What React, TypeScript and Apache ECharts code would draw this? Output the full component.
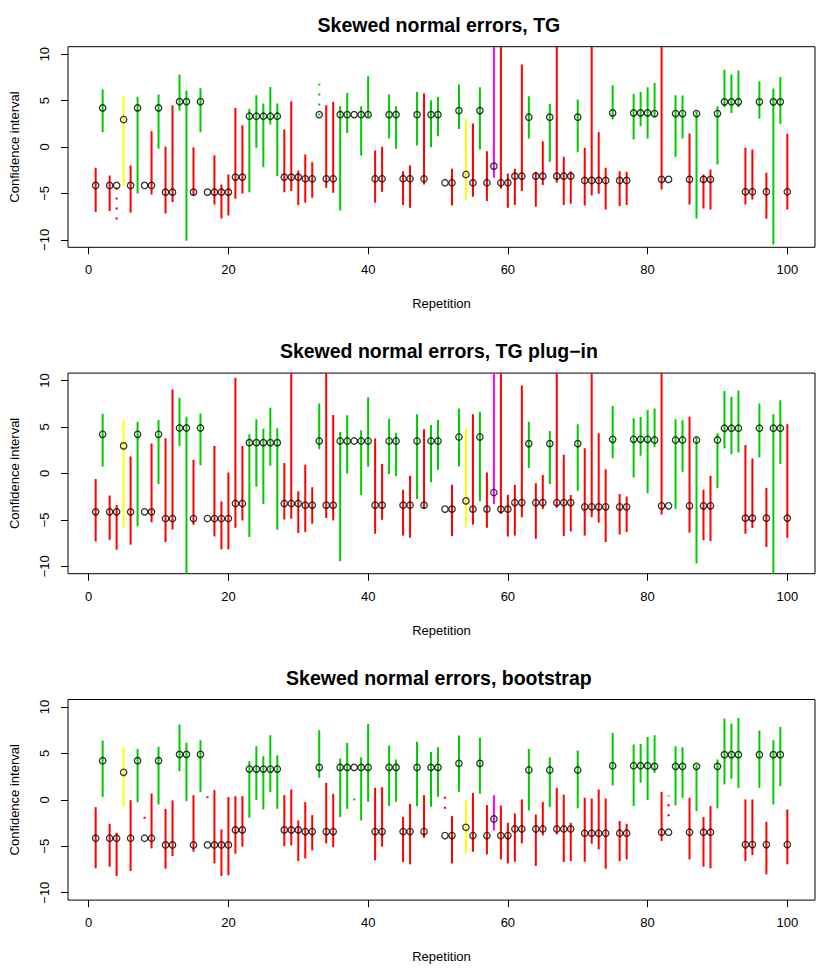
import React, { useEffect, useRef } from "react";
import * as echarts from "echarts";

// Repetition index 1..100
const reps: number[] = Array.from({ length: 100 }, (_, i) => i + 1);

const xTicks = [0, 20, 40, 60, 80, 100];
const yTicks = [-10, -5, 0, 5, 10];

// point estimates (shared by all three panels)
const estimates = [
  -4.14, 4.21, -4.14, -4.14, 2.96, -4.14, 4.21, -4.14, -4.14, 4.21,
  -4.86, -4.86, 4.89, 4.89, -4.86, 4.89, -4.86, -4.86, -4.86, -4.86,
  -3.24, -3.24, 3.31, 3.31, 3.31, 3.31, 3.31, -3.24, -3.24, -3.24,
  -3.42, -3.42, 3.49, -3.42, -3.42, 3.49, 3.49, 3.49, 3.49, 3.49,
  -3.42, -3.42, 3.49, 3.49, -3.42, -3.42, 3.49, -3.42, 3.49, 3.49,
  -3.85, -3.85, 3.92, -2.96, -3.85, 3.92, -3.85, -2.06, -3.85, -3.85,
  -3.14, -3.14, 3.21, -3.14, -3.14, 3.21, -3.14, -3.14, -3.14, 3.21,
  -3.6, -3.6, -3.6, -3.6, 3.67, -3.6, -3.6, 3.67, 3.67, 3.67,
  3.6, -3.49, -3.49, 3.6, 3.6, -3.49, 3.6, -3.49, -3.49, 3.6,
  4.86, 4.86, 4.86, -4.82, -4.82, 4.86, -4.82, 4.86, 4.86, -4.82,
];

// codes: r red, g green, y yellow, m magenta, R red dotted, G green dotted, - none
const tgCodes = (
  "rgrRyrg-rg" + "rrggrg-rrr" + "rrgggggrrr" + "rrGrrgg-gg" + "rrggrrgrgg" +
  "-rgyrgrmrr" + "rrgrrgrrrg" + "rrrrgrrggg" + "gr-ggrgrrg" + "gggrrgrggr"
).split("");
const tgLower = [
  -7.0, 1.59, -6.9, -7.8, -4.21, -7.08, -5.0, null, -5.11, -0.2,
  -7.15, -5.93, 3.92, -10.1, -5.2, 1.59, null, -6.18, -7.69, -7.37,
  -5.57, -5.0, -4.86, -0.09, -2.17, 2.42, -3.14, -4.86, -4.75, -6.25,
  -6.0, -5.47, 3.4, -4.39, -4.93, -6.83, 1.52, null, -0.91, 3.24,
  -6.0, -4.82, 0.91, -0.2, -6.25, -6.54, 0.16, -4.03, -0.02, 1.16,
  null, -6.29, 1.95, -5.72, -5.36, -0.27, -5.82, -3.31, -4.46, -6.54,
  -6.25, -4.75, 0.91, -6.43, -4.1, -1.59, -3.85, -6.25, -6.11, -0.56,
  -6.29, -5.22, -5.04, -6.72, 2.96, -6.36, -6.25, 0.81, 2.24, 0.91,
  3.21, -4.57, null, -1.09, 0.91, -6.18, -7.69, -6.61, -6.72, -1.88,
  4.28, 3.67, 4.28, -6.18, -5.65, 3.03, -7.72, -10.5, 2.49, -6.72,
];
const tgUpper = [
  -2.24, 6.18, -3.06, -4.14, 5.54, -1.99, 5.39, null, 1.7, 5.65,
  0.02, 4.5, 7.8, 6.08, -0.02, 6.32, null, -0.9, -4.03, -2.96,
  4.21, 2.35, 4.1, 5.57, 4.68, 6.47, 4.68, 1.88, 4.93, -2.53,
  -0.8, -1.63, 6.82, 4.5, 4.86, 4.39, 5.82, null, 4.39, 7.62,
  -0.38, 0.02, 5.65, 4.39, -2.6, -1.99, 5.93, 5.75, 5.04, 5.39,
  null, -2.35, 6.72, 3.03, 2.53, 6.43, -0.45, 12, 12, -2.85,
  -2.35, 8.87, 5.47, -2.67, 0.63, 4.64, 12, -1.06, -2.6, 5.11,
  -0.09, 12, 1.59, -2.24, 6.65, -2.6, -2.67, 5.72, 5.93, 6.43,
  6.9, 12, null, 5.57, 5.54, 1.45, 3.85, -2.96, -2.42, 4.39,
  8.33, 7.8, 8.23, -0.09, -0.27, 7.08, -2.78, 6.29, 7.54, 1.42,
];

const plugCodes = (
  "rgrryrg-rg" + "rrggrg-rrr" + "rrgggggrrr" + "rrgrrgg-gg" + "rrggrrgrgg" +
  "-rgyrgrmrr" + "rrgrrgrrrg" + "rrrrgrrggg" + "gr-ggrgrrg" + "gggrrgrggr"
).split("");
const plugLower = [
  -7.32, 0.75, -7.14, -8.21, -5.89, -7.68, -5.68, null, -5.25, -1.14,
  -7.39, -6.04, 2.96, -12, -5.54, 0.89, null, -6.79, -8.18, -8.18,
  -5.86, -5.07, -6.86, -1.43, -3.29, 0.82, -6.07, -4.96, -4.89, -6.43,
  -6.32, -5.43, 2.61, -4.79, -5.07, -9.46, 0.0, null, -2.32, 0.71,
  -6.5, -5.0, -0.07, -0.32, -6.68, -6.93, -2.75, -3.82, -0.96, 0.36,
  null, -6.75, 0.75, -5.79, -5.54, -3.0, -5.86, -3.29, -4.36, -6.79,
  -6.68, -4.71, 0.57, -7.04, -3.82, -1.14, -3.71, -6.75, -6.25, -1.86,
  -6.68, -4.71, -5.32, -7.39, 1.64, -6.57, -6.32, -0.43, 1.89, -2.14,
  2.86, -4.46, null, -3.82, 0.18, -6.39, -9.71, -7.21, -7.29, -1.57,
  2.68, 2.07, 2.25, -6.5, -5.89, 1.71, -7.93, -12, 1.0, -6.93,
];
const plugUpper = [
  -0.61, 6.43, -2.39, -3.39, 5.71, 1.82, 5.57, null, 3.21, 5.75,
  3.79, 9.04, 8.14, 6.11, 1.46, 6.46, null, 2.96, -3.0, 0.11,
  10.29, 2.96, 4.21, 5.82, 4.82, 7.07, 4.86, 1.11, 12, -1.93,
  0.93, -1.5, 7.54, 12, 6.29, 4.46, 6.25, null, 4.64, 8.21,
  3.75, 1.0, 5.89, 4.39, -1.75, -0.25, 6.36, 4.75, 5.21, 5.75,
  null, -1.21, 7.0, 4.86, 6.36, 6.64, 0.11, 12, 12, -2.29,
  -1.25, 9.46, 5.57, -1.07, -0.18, 4.57, 12, 2.0, -2.32, 5.29,
  2.71, 12, 4.32, 0.46, 7.25, -2.21, -2.5, 5.93, 6.07, 6.82,
  7.0, 12, null, 5.82, 5.71, 6.11, 3.86, -1.75, -0.25, 4.32,
  8.86, 8.25, 8.93, 3.07, 1.61, 7.54, -1.57, 6.36, 7.89, 5.29,
];

const bootCodes = (
  "rgrryrgRrg" + "rrggrgRrrr" + "rrgggggrrr" + "rrgrrggGgg" + "rrggrrgrgg" +
  "Rrgyrgrmrr" + "rrgrrgrrrg" + "rrrrgrrggg" + "grRggrgrrg" + "gggrrgrggr"
).split("");
const bootLower = [
  -7.38, 0.29, -7.2, -8.21, -0.75, -7.67, -0.25, -2.04, -5.23, -0.5,
  -7.42, -6.06, 3.08, -0.14, -5.59, 0.82, 0.2, -6.85, -8.21, -8.14,
  -5.81, -5.05, -1.94, -0.04, -1.04, 0.82, -0.97, -4.98, -4.91, -6.59,
  -6.31, -5.45, 2.37, -4.7, -5.09, -1.86, -0.97, -0.06, -2.22, -0.22,
  -6.52, -5.05, -0.68, -0.22, -6.7, -6.95, -0.68, -4.09, -0.75, 0.32,
  -0.97, -6.85, 0.86, -5.81, -5.59, 0.65, -5.88, -3.3, -6.42, -6.85,
  -6.67, -4.7, -1.15, -7.13, -3.84, -0.79, -3.73, -6.7, -6.6, -0.93,
  -6.67, -4.73, -5.34, -7.42, 1.54, -6.6, -6.42, -0.68, 1.83, -0.04,
  2.9, -4.44, -1.76, -0.61, 0.22, -6.42, -1.22, -7.2, -7.38, -0.93,
  1.65, 2.26, 1.29, -6.6, -5.95, 1.29, -8.03, -0.5, 1.47, -6.95,
];
const bootUpper = [
  -0.79, 6.38, -2.58, -3.55, 5.66, -0.04, 5.48, -0.97, 0.68, 5.7,
  -0.97, -0.07, 8.1, 6.13, 0.5, 6.42, 0.38, 1.04, -3.19, 0.29,
  0.39, 0.39, 4.16, 5.77, 4.7, 6.95, 4.8, 0.5, 1.11, -2.22,
  -0.25, -1.65, 7.49, 1.83, 0.65, 4.44, 6.13, 0.14, 4.59, 8.17,
  1.29, 1.36, 5.84, 4.34, -1.83, -0.43, 6.24, 0.5, 5.16, 5.66,
  1.18, -1.76, 6.92, -0.07, 0.75, 6.67, -0.57, 0.5, -0.61, -2.47,
  -1.47, 0.04, 5.48, -1.58, -0.22, 4.59, 1.29, 0.55, -2.47, 5.3,
  0.22, 0.14, 1.11, 0.14, 7.2, -2.29, -2.58, 5.95, 6.02, 6.77,
  6.95, 0.86, 0.47, 5.77, 5.66, 0.22, 3.8, -1.86, -0.68, 4.34,
  8.75, 8.21, 8.82, 0.04, 0.04, 7.46, -2.37, 6.42, 7.85, -1.04,
];

const titles = [
  "Skewed normal errors, TG",
  "Skewed normal errors, TG plug\u2212in",
  "Skewed normal errors, bootstrap",
];

const panels = [
  { title: titles[0], lower: tgLower, upper: tgUpper, codes: tgCodes },
  { title: titles[1], lower: plugLower, upper: plugUpper, codes: plugCodes },
  { title: titles[2], lower: bootLower, upper: bootUpper, codes: bootCodes },
];

const COLORS: Record<string, string> = {
  r: "#FF0000",
  R: "#FF0000",
  g: "#00CD00",
  G: "#00CD00",
  y: "#FFFF00",
  m: "#FF00FF",
};

const FONT = '"Liberation Sans", Arial, Helvetica, sans-serif';
const minusFmt = (v: number) => String(v).replace("-", "\u2212");

export default function App() {
  const ref = useRef<HTMLDivElement>(null);
  useEffect(() => {
    document.body.style.margin = "0";
    const chart = echarts.init(ref.current!, null, { renderer: "svg" });
    const grids: any[] = [];
    const xAxes: any[] = [];
    const yAxes: any[] = [];
    const series: any[] = [];
    const graphics: any[] = [];
    const PANEL_H = 326.4;
    panels.forEach((p, k) => {
      const top = 46.7 + PANEL_H * k;
      grids.push({
        left: 62.7,
        top,
        width: 752.3,
        height: 200.6,
        show: true,
        borderColor: "#000",
        borderWidth: 1,
        backgroundColor: "transparent",
      });
      xAxes.push({
        type: "value",
        gridIndex: k,
        position: "bottom",
        min: -2.96,
        max: 103.96,
        name: "Repetition",
        nameLocation: "middle",
        nameGap: 50,
        nameTextStyle: { fontSize: 13, color: "#000", fontFamily: FONT },
        axisLine: { show: false, onZero: false },
        axisTick: {
          show: true,
          inside: false,
          length: 7,
          customValues: xTicks,
          lineStyle: { color: "#000", width: 1 },
        },
        axisLabel: {
          customValues: xTicks,
          margin: 16,
          fontSize: 13,
          color: "#000",
          fontFamily: FONT,
        },
        splitLine: { show: false },
      });
      yAxes.push({
        type: "value",
        gridIndex: k,
        position: "left",
        min: -10.8,
        max: 10.8,
        name: "Confidence interval",
        nameLocation: "middle",
        nameGap: 47,
        nameRotate: 90,
        nameTextStyle: { fontSize: 13, color: "#000", fontFamily: FONT },
        axisLine: { show: false, onZero: false },
        axisTick: {
          show: true,
          inside: false,
          length: 7,
          customValues: yTicks,
          lineStyle: { color: "#000", width: 1 },
        },
        axisLabel: {
          customValues: yTicks,
          rotate: 90,
          margin: 17,
          fontSize: 13,
          color: "#000",
          fontFamily: FONT,
          formatter: minusFmt,
        },
        splitLine: { show: false },
      });
      const lineData: any[] = [];
      const lineCodes: string[] = [];
      reps.forEach((r, i) => {
        if (p.codes[i] !== "-" && p.lower[i] != null && p.upper[i] != null) {
          lineData.push([r, p.lower[i], p.upper[i]]);
          lineCodes.push(p.codes[i]);
        }
      });
      series.push({
        type: "custom",
        xAxisIndex: k,
        yAxisIndex: k,
        clip: true,
        silent: true,
        z: 2,
        data: lineData,
        encode: { x: 0, y: [1, 2] },
        renderItem: (params: any, api: any) => {
          const code = lineCodes[params.dataIndex];
          const x = api.value(0);
          const lo = api.coord([x, api.value(1)]);
          const hi = api.coord([x, api.value(2)]);
          const cs = params.coordSys;
          const clampY = (y: number) => Math.max(cs.y, Math.min(cs.y + cs.height, y));
          const dotted = code === "R" || code === "G";
          return {
            type: "line",
            shape: { x1: lo[0], y1: clampY(lo[1]), x2: hi[0], y2: clampY(hi[1]) },
            style: {
              stroke: COLORS[code],
              lineWidth: dotted ? 2.2 : 2,
              lineDash: dotted ? [2, 8] : null,
              lineCap: "butt",
            },
          };
        },
      });
      series.push({
        type: "scatter",
        xAxisIndex: k,
        yAxisIndex: k,
        silent: true,
        z: 3,
        symbol: "circle",
        symbolSize: 6.4,
        itemStyle: { color: "rgba(0,0,0,0)", borderColor: "#000", borderWidth: 1.3 },
        data: reps.map((r, i) => [r, estimates[i]]),
      });
      graphics.push({
        type: "text",
        x: 438.9,
        y: 25 + PANEL_H * k,
        style: {
          text: p.title,
          font: `bold 19.5px ${FONT}`,
          fill: "#000",
          align: "center",
          verticalAlign: "middle",
          textAlign: "center",
          textVerticalAlign: "middle",
        },
      });
    });
    chart.setOption({
      animation: false,
      backgroundColor: "#fff",
      grid: grids,
      xAxis: xAxes,
      yAxis: yAxes,
      series,
      graphic: graphics,
    });
    return () => chart.dispose();
  }, []);
  return <div ref={ref} style={{ width: 830, height: 979, overflow: "hidden" }} />;
}
